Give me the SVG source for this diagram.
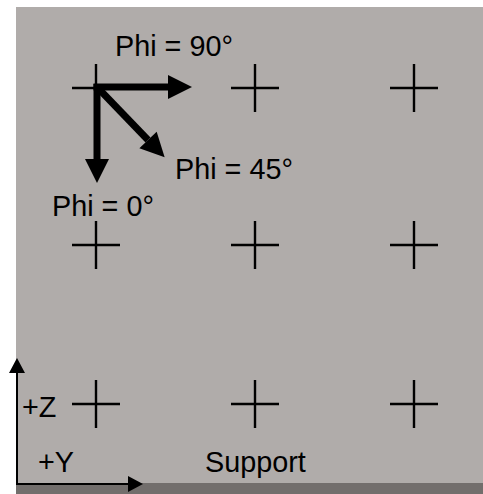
<svg xmlns="http://www.w3.org/2000/svg" width="483" height="494" viewBox="0 0 483 494">
<style>
.t{font-family:"Liberation Sans",Arial,sans-serif;font-size:28.8px;fill:#000}
.cross{stroke:#000;stroke-width:2.4;fill:none}
.arr{stroke:#000;stroke-width:7;fill:none}
.ax{stroke:#000;stroke-width:2;fill:none}
</style>
<defs>
<marker id="big" markerUnits="userSpaceOnUse" markerWidth="24" markerHeight="24" refX="0" refY="12" orient="auto" overflow="visible">
<path d="M0,0 L24,12 L0,24 z" fill="#000"/>
</marker>
<marker id="small" markerUnits="userSpaceOnUse" markerWidth="15" markerHeight="16" refX="0" refY="8" orient="auto" overflow="visible">
<path d="M0,0 L15,8 L0,16 z" fill="#000"/>
</marker>
</defs>
<rect x="0" y="0" width="483" height="494" fill="#fff"/>
<rect x="16" y="7" width="467" height="487" fill="#b0acaa"/>
<rect x="16" y="483" width="467" height="11" fill="#726e6c"/>
<g id="crosses">
<g id="c11"><path class="cross" d="M72,88H120M96,64V112"/></g>
<g id="c12"><path class="cross" d="M231,88H279M255,64V112"/></g>
<g id="c13"><path class="cross" d="M390,88H438M414,64V112"/></g>
<g id="c21"><path class="cross" d="M72,245H120M96,221V269"/></g>
<g id="c22"><path class="cross" d="M231,245H279M255,221V269"/></g>
<g id="c23"><path class="cross" d="M390,245H438M414,221V269"/></g>
<g id="c31"><path class="cross" d="M72,404H120M96,380V428"/></g>
<g id="c32"><path class="cross" d="M231,404H279M255,380V428"/></g>
<g id="c33"><path class="cross" d="M390,404H438M414,380V428"/></g>
</g>
<g id="connectors">
<line class="arr" x1="93.5" y1="87" x2="168" y2="87" marker-end="url(#big)"/>
<line class="arr" x1="97" y1="84" x2="97" y2="159" marker-end="url(#big)"/>
<line class="arr" x1="97" y1="87" x2="148" y2="140" marker-end="url(#big)"/>
<line class="ax" x1="17" y1="485" x2="17" y2="373" marker-end="url(#small)"/>
<line class="ax" x1="16" y1="484" x2="128" y2="484" marker-end="url(#small)"/>
</g>
<g id="labels">
<text class="t" x="115" y="56">Phi = 90°</text>
<text class="t" x="175" y="179">Phi = 45°</text>
<text class="t" x="52" y="216">Phi = 0°</text>
<text class="t" x="22" y="417">+Z</text>
<text class="t" x="38" y="472">+Y</text>
<text class="t" x="205" y="472">Support</text>
</g>
</svg>
